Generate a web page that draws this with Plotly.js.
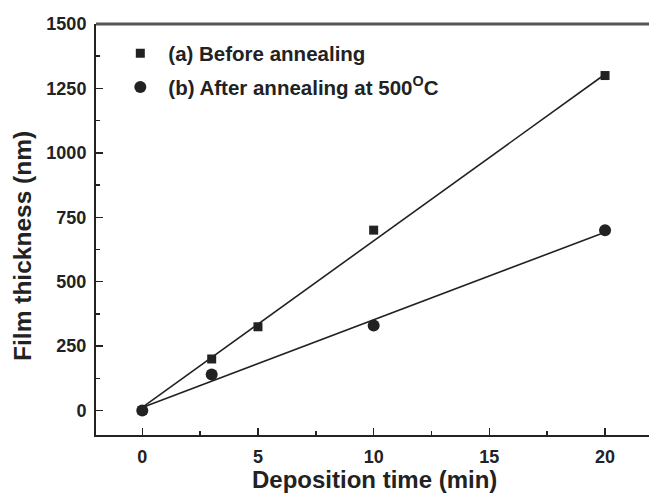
<!DOCTYPE html>
<html>
<head>
<meta charset="utf-8">
<script src="https://cdn.plot.ly/plotly-3.0.1.min.js"></script>
<style>html,body{margin:0;padding:0;background:#fff;}#chart{width:649px;height:495px;}</style>
</head>
<body>
<div id="chart"></div>
<script>
// Data
const timeA = [0, 3, 5, 10, 20];
const thickA = [0, 200, 325, 700, 1300];
const timeB = [0, 3, 10, 20];
const thickB = [0, 140, 330, 700];
const fitTime = [0, 20];
const fitA = [12, 1305];
const fitB = [12, 692];
const nameA = "(a) Before annealing";
const nameB = "(b) After annealing at 500<sup>O</sup>C";
const xTicks = [0, 5, 10, 15, 20];
const yTicks = [0, 250, 500, 750, 1000, 1250, 1500];

const ink = "#222222";
const font = "Liberation Sans, Arial, sans-serif";

const traces = [
  {x: fitTime, y: fitA, mode: "lines", line: {color: ink, width: 1.6}, showlegend: false, hoverinfo: "skip"},
  {x: fitTime, y: fitB, mode: "lines", line: {color: ink, width: 1.6}, showlegend: false, hoverinfo: "skip"},
  {x: timeA, y: thickA, mode: "markers", name: nameA, legendgroup: "a",
   marker: {symbol: "square", size: 9, color: ink}},
  {x: timeB, y: thickB, mode: "markers", name: nameB, legendgroup: "b",
   marker: {symbol: "circle", size: 12, color: ink}}
];

const layout = {
  width: 649, height: 495,
  margin: {l: 96, r: 0, t: 24, b: 60},
  paper_bgcolor: "#ffffff", plot_bgcolor: "#ffffff",
  font: {family: font, color: ink},
  showlegend: true,
  legend: {x: 0.0295, y: 0.977, xanchor: "left", yanchor: "top", bgcolor: "rgba(0,0,0,0)",
    font: {family: font, size: 20.5, color: ink, weight: "bold"},
    traceorder: "grouped", tracegroupgap: 4, itemsizing: "trace", itemwidth: 46},
  xaxis: {range: [-2, 21.9], tickvals: xTicks, ticks: "inside", ticklen: 7, tickwidth: 1.5,
    tickcolor: ink, showline: true, linecolor: ink, linewidth: 2, showgrid: false, zeroline: false,
    minor: {ticks: "inside", ticklen: 4, tickwidth: 1.5, tickcolor: ink, dtick: 2.5, showgrid: false},
    tickfont: {family: font, size: 18, color: ink, weight: "bold"}, ticklabelstandoff: 4},
  yaxis: {range: [-95, 1500], tickvals: yTicks, ticks: "inside", ticklen: 7, tickwidth: 1.5,
    tickcolor: ink, showline: true, linecolor: ink, linewidth: 2, showgrid: false, zeroline: false,
    minor: {ticks: "inside", ticklen: 4, tickwidth: 1.5, tickcolor: ink, dtick: 125, showgrid: false},
    tickfont: {family: font, size: 18, color: ink, weight: "bold"}, ticklabelstandoff: 4},
  shapes: [{type: "line", xref: "paper", yref: "paper", x0: 0, x1: 1, y0: 1, y1: 1,
    line: {color: "#555", width: 3}}],
  annotations: [
    {text: "Deposition time (min)", xref: "paper", yref: "paper", x: 0.503, y: 0, yshift: -44,
     xanchor: "center", yanchor: "middle", showarrow: false,
     font: {family: font, size: 24, color: ink, weight: "bold"}},
    {text: "Film thickness (nm)", xref: "paper", yref: "paper", x: 0, xshift: -73, y: 0.46,
     xanchor: "center", yanchor: "middle", textangle: -90, showarrow: false,
     font: {family: font, size: 24.5, color: ink, weight: "bold"}}
  ]
};

Plotly.newPlot("chart", traces, layout, {displayModeBar: false, staticPlot: true});
</script>
</body>
</html>
